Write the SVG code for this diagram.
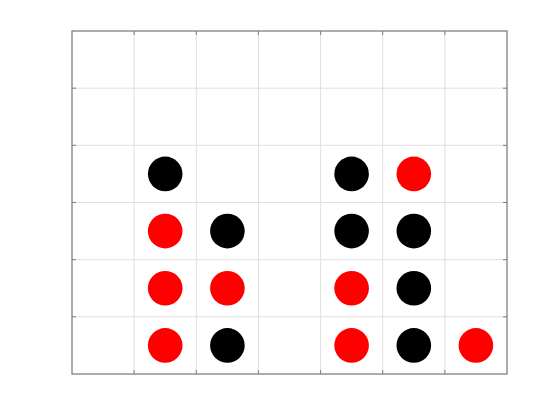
<svg xmlns="http://www.w3.org/2000/svg" width="560" height="420" viewBox="0 0 560 420">
<style>
.grid{stroke:#dfdfdf;stroke-width:1;fill:none}
.tick{stroke:#7f7f7f;stroke-width:1;fill:none}
.box{stroke:#808080;stroke-width:1.3;fill:none}
.r{fill:#ff0000}
.b{fill:#000000}
</style>
<rect width="560" height="420" fill="#ffffff"/>
<g id="grid">
<path class="grid" d="M134.1 31V374M196.3 31V374M258.4 31V374M320.6 31V374M382.7 31V374M444.9 31V374M72 88.2H507M72 145.3H507M72 202.5H507M72 259.7H507M72 316.8H507"/>
</g>
<g id="ticks">
<path class="tick" d="M134.1 31v4M196.3 31v4M258.4 31v4M320.6 31v4M382.7 31v4M444.9 31v4M134.1 374v-4M196.3 374v-4M258.4 374v-4M320.6 374v-4M382.7 374v-4M444.9 374v-4M72 88.2h4M72 145.3h4M72 202.5h4M72 259.7h4M72 316.8h4M507 88.2h-4M507 145.3h-4M507 202.5h-4M507 259.7h-4M507 316.8h-4"/>
</g>
<rect id="axes" class="box" x="72" y="31" width="435" height="343"/>
<g id="pieces">
<circle class="r" cx="165.2" cy="345.4" r="17.3"/>
<circle class="r" cx="165.2" cy="288.2" r="17.3"/>
<circle class="r" cx="165.2" cy="231.1" r="17.3"/>
<circle class="b" cx="165.2" cy="173.9" r="17.3"/>
<circle class="b" cx="227.4" cy="345.4" r="17.3"/>
<circle class="r" cx="227.4" cy="288.2" r="17.3"/>
<circle class="b" cx="227.4" cy="231.1" r="17.3"/>
<circle class="r" cx="351.6" cy="345.4" r="17.3"/>
<circle class="r" cx="351.6" cy="288.2" r="17.3"/>
<circle class="b" cx="351.6" cy="231.1" r="17.3"/>
<circle class="b" cx="351.6" cy="173.9" r="17.3"/>
<circle class="b" cx="413.8" cy="345.4" r="17.3"/>
<circle class="b" cx="413.8" cy="288.2" r="17.3"/>
<circle class="b" cx="413.8" cy="231.1" r="17.3"/>
<circle class="r" cx="413.8" cy="173.9" r="17.3"/>
<circle class="r" cx="475.9" cy="345.4" r="17.3"/>
</g>
</svg>
